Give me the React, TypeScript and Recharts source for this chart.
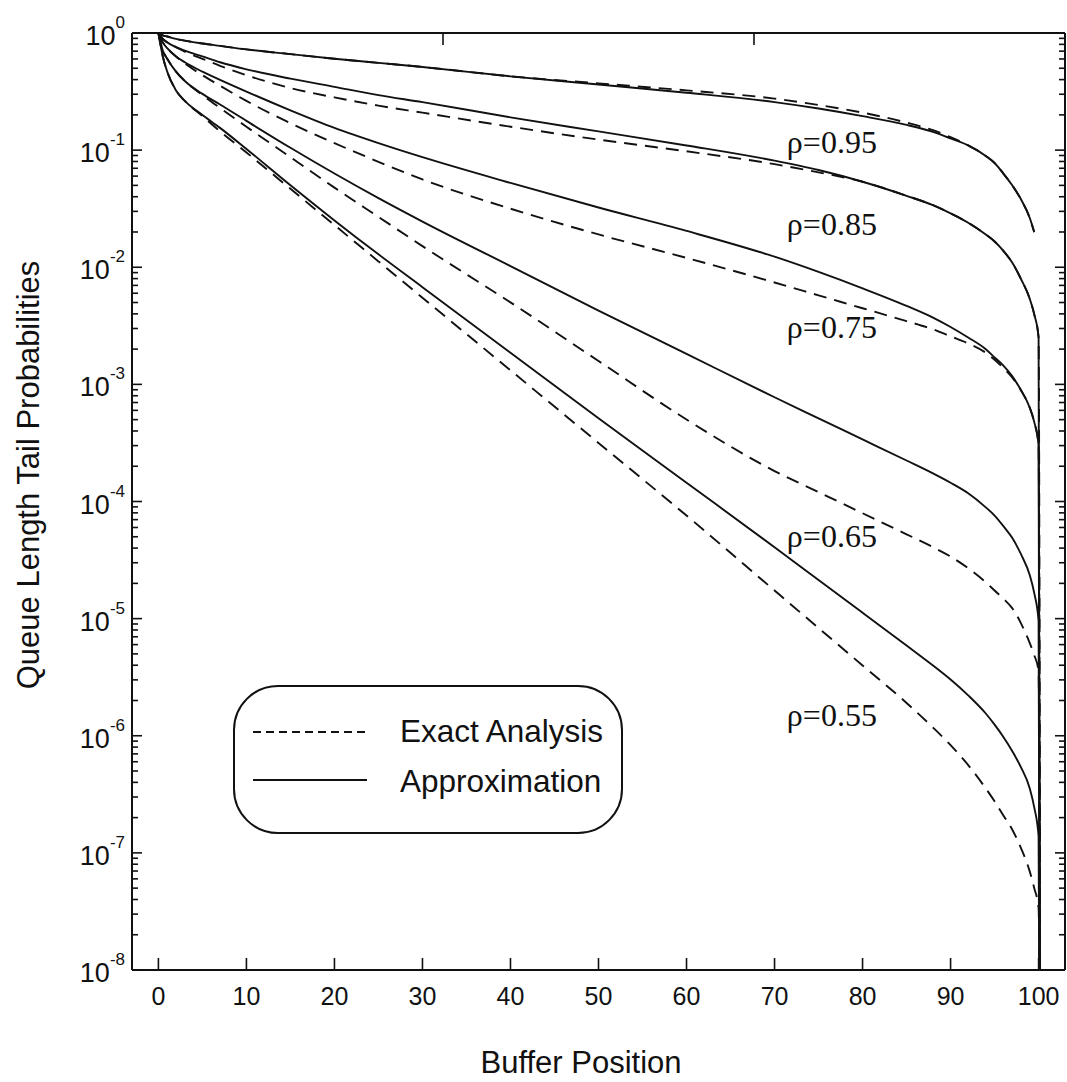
import React from 'react';
import { LineChart, Line, XAxis, YAxis, ReferenceDot, Customized } from 'recharts';

const POSITIONS = [0, 0.5, 1, 2, 3, 5, 7, 10, 15, 20, 25, 30, 40, 50, 60, 70, 75, 80, 85, 88, 90, 92, 94, 95, 96, 97, 98, 99, 99.5, 100, 100.2];

// tail probabilities, as powers of ten (-10 = off the bottom of the plot)
const approx95 = [0, -0.02, -0.03, -0.05, -0.065, -0.09, -0.11, -0.14, -0.18, -0.22, -0.255, -0.29, -0.37, -0.44, -0.51, -0.59, -0.645, -0.71, -0.785, -0.845, -0.9, -0.96, -1.05, -1.11, -1.2, -1.3, -1.42, -1.58, -1.7, null, null];
const exact95 = [0, -0.02, -0.03, -0.05, -0.065, -0.09, -0.11, -0.14, -0.18, -0.22, -0.255, -0.29, -0.37, -0.43, -0.49, -0.56, -0.615, -0.68, -0.765, -0.83, -0.89, -0.96, -1.05, -1.11, -1.2, -1.3, -1.42, -1.58, -1.7, null, null];
const approx85 = [0, -0.05, -0.08, -0.12, -0.15, -0.2, -0.25, -0.31, -0.39, -0.46, -0.53, -0.59, -0.72, -0.84, -0.96, -1.09, -1.17, -1.27, -1.39, -1.47, -1.54, -1.62, -1.72, -1.78, -1.86, -1.96, -2.1, -2.27, -2.4, -2.6, -10];
const exact85 = [0, -0.05, -0.08, -0.12, -0.16, -0.22, -0.28, -0.36, -0.47, -0.55, -0.62, -0.68, -0.8, -0.91, -1.01, -1.12, -1.19, -1.27, -1.39, -1.47, -1.54, -1.62, -1.72, -1.78, -1.86, -1.96, -2.1, -2.27, -2.4, -2.6, -10];
const approx75 = [0, -0.08, -0.13, -0.2, -0.25, -0.33, -0.4, -0.5, -0.66, -0.81, -0.94, -1.06, -1.28, -1.49, -1.69, -1.91, -2.04, -2.18, -2.33, -2.43, -2.51, -2.6, -2.7, -2.77, -2.84, -2.93, -3.05, -3.2, -3.32, -3.52, -10];
const exact75 = [0, -0.08, -0.13, -0.2, -0.26, -0.36, -0.45, -0.58, -0.77, -0.94, -1.1, -1.25, -1.5, -1.72, -1.92, -2.13, -2.24, -2.35, -2.46, -2.53, -2.59, -2.65, -2.73, -2.79, -2.86, -2.94, -3.05, -3.2, -3.32, -3.52, -10];
const approx65 = [0, -0.15, -0.22, -0.33, -0.41, -0.52, -0.61, -0.75, -0.98, -1.2, -1.41, -1.61, -1.99, -2.37, -2.74, -3.11, -3.29, -3.47, -3.65, -3.76, -3.84, -3.93, -4.05, -4.12, -4.21, -4.31, -4.45, -4.63, -4.78, -5.02, -10];
const exact65 = [0, -0.15, -0.22, -0.33, -0.41, -0.53, -0.64, -0.8, -1.06, -1.32, -1.57, -1.82, -2.3, -2.8, -3.3, -3.74, -3.92, -4.1, -4.28, -4.39, -4.47, -4.57, -4.69, -4.76, -4.83, -4.91, -5.04, -5.21, -5.31, -5.45, -10];
const approx55 = [0, -0.2, -0.33, -0.49, -0.58, -0.7, -0.81, -0.99, -1.3, -1.6, -1.89, -2.17, -2.73, -3.29, -3.84, -4.39, -4.67, -4.95, -5.23, -5.4, -5.52, -5.655, -5.81, -5.905, -6.01, -6.13, -6.27, -6.45, -6.61, -6.86, -10];
const exact55 = [0, -0.2, -0.33, -0.49, -0.58, -0.71, -0.84, -1.02, -1.33, -1.64, -1.95, -2.26, -2.88, -3.5, -4.12, -4.76, -5.08, -5.4, -5.72, -5.93, -6.08, -6.25, -6.45, -6.56, -6.68, -6.8, -6.96, -7.16, -7.3, -7.47, -10];

const X_TICKS = [0, 10, 20, 30, 40, 50, 60, 70, 80, 90, 100];
const DECADES = [1, 1e-1, 1e-2, 1e-3, 1e-4, 1e-5, 1e-6, 1e-7, 1e-8];
const MINOR_STEPS = [2, 3, 4, 5, 6, 7, 8, 9];

const RHO_LABELS = [
  { text: 'ρ=0.95', x: 71.4, p: 0.0937 },
  { text: 'ρ=0.85', x: 71.4, p: 0.0188 },
  { text: 'ρ=0.75', x: 71.4, p: 2.47e-3 },
  { text: 'ρ=0.65', x: 71.4, p: 4.05e-5 },
  { text: 'ρ=0.55', x: 71.4, p: 1.22e-6 },
];

const SERIES = [
  { key: 'e95', values: exact95, dashed: true },
  { key: 'a95', values: approx95, dashed: false },
  { key: 'e85', values: exact85, dashed: true },
  { key: 'a85', values: approx85, dashed: false },
  { key: 'e75', values: exact75, dashed: true },
  { key: 'a75', values: approx75, dashed: false },
  { key: 'e65', values: exact65, dashed: true },
  { key: 'a65', values: approx65, dashed: false },
  { key: 'e55', values: exact55, dashed: true },
  { key: 'a55', values: approx55, dashed: false },
];

const rows = POSITIONS.map((x, i) => {
  const row: Record<string, number | null> = { x };
  SERIES.forEach((s) => {
    const v = s.values[i];
    row[s.key] = v == null ? null : Math.pow(10, v);
  });
  return row;
});

const Y_TICKS = [
  ...DECADES,
  ...DECADES.slice(1).flatMap((d) => MINOR_STEPS.map((m) => m * d)),
];

const SANS = "'Liberation Sans', Arial, Helvetica, sans-serif";
const SERIF = "'Liberation Serif', 'Times New Roman', serif";
const INK = '#111';

const isDecade = (v: number) => Math.abs(Math.log10(v) - Math.round(Math.log10(v))) < 1e-6;

function LeftTick({ x, y, payload }: any) {
  const v = payload.value;
  const major = isDecade(v);
  const exp = Math.round(Math.log10(v));
  return (
    <g>
      <line x1={x} x2={x + (major ? 10 : 6)} y1={y} y2={y} stroke={INK} strokeWidth={1.6} />
      {major && (
        <text x={x - 7} y={y + 12} textAnchor="end" fontFamily={SANS} fill={INK}>
          <tspan fontSize={27}>10</tspan>
          <tspan fontSize={17} dy={-17}>{exp === 0 ? '0' : String(exp)}</tspan>
        </text>
      )}
    </g>
  );
}

function RightTick({ x, y, payload }: any) {
  const major = isDecade(payload.value);
  return <line x1={x} x2={x - (major ? 10 : 6)} y1={y} y2={y} stroke={INK} strokeWidth={1.6} />;
}

function BottomTick({ x, y, payload }: any) {
  return (
    <g>
      <line x1={x} x2={x} y1={y} y2={y - 12} stroke={INK} strokeWidth={1.6} />
      <text x={x} y={y + 35} textAnchor="middle" fontFamily={SANS} fontSize={25} fill={INK}>
        {payload.value}
      </text>
    </g>
  );
}

function TopTick({ x, y }: any) {
  return <line x1={x} x2={x} y1={y} y2={y + 12} stroke={INK} strokeWidth={1.6} />;
}

function RhoText(props: any) {
  const { viewBox, value } = props;
  return (
    <text x={viewBox.x} y={viewBox.y} fontFamily={SERIF} fontSize={32} fill={INK}>
      {value}
    </text>
  );
}

function Decorations() {
  return (
    <g>
      <text
        x={39}
        y={475}
        transform="rotate(-90 39 475)"
        textAnchor="middle"
        fontFamily={SANS}
        fontSize={31}
        fill={INK}
      >
        Queue Length Tail Probabilities
      </text>
      <text x={581} y={1073} textAnchor="middle" fontFamily={SANS} fontSize={31} fill={INK}>
        Buffer Position
      </text>
      <rect x={234} y={686} width={388} height={147} rx={44} ry={44} fill="#fff" stroke={INK} strokeWidth={2} />
      <line x1={253} x2={367} y1={732} y2={732} stroke={INK} strokeWidth={2} strokeDasharray="8 5" />
      <text x={400} y={742} fontFamily={SANS} fontSize={31.5} fill={INK}>
        Exact Analysis
      </text>
      <line x1={253} x2={367} y1={780} y2={780} stroke={INK} strokeWidth={2} />
      <text x={400} y={792} fontFamily={SANS} fontSize={31.5} fill={INK}>
        Approximation
      </text>
    </g>
  );
}

export default function App() {
  const axisLine = { stroke: INK, strokeWidth: 2 };
  return (
    <div style={{ position: 'absolute', left: 0, top: 0, width: 1067, height: 1082, background: '#fff' }}>
      <LineChart width={1067} height={1082} data={rows} margin={{ top: 0, right: 0, bottom: 0, left: 0 }}>
        <XAxis
          dataKey="x"
          type="number"
          domain={[-3, 103]}
          ticks={X_TICKS}
          interval={0}
          allowDataOverflow
          height={112}
          tickSize={0}
          tickMargin={0}
          tickLine={false}
          axisLine={axisLine}
          tick={(p: any) => <BottomTick {...p} />}
        />
        <XAxis
          xAxisId="top"
          orientation="top"
          type="number"
          domain={[-3, 103]}
          ticks={X_TICKS}
          interval={0}
          allowDataOverflow
          height={33}
          tickSize={0}
          tickMargin={0}
          tickLine={false}
          axisLine={axisLine}
          tick={(p: any) => <TopTick {...p} />}
        />
        <YAxis
          type="number"
          scale="log"
          domain={[1e-8, 1]}
          ticks={Y_TICKS}
          interval={0}
          allowDataOverflow
          width={132}
          tickSize={0}
          tickMargin={0}
          tickLine={false}
          axisLine={axisLine}
          tick={(p: any) => <LeftTick {...p} />}
        />
        <YAxis
          yAxisId="right"
          orientation="right"
          type="number"
          scale="log"
          domain={[1e-8, 1]}
          ticks={Y_TICKS}
          interval={0}
          allowDataOverflow
          width={2}
          tickSize={0}
          tickMargin={0}
          tickLine={false}
          axisLine={axisLine}
          tick={(p: any) => <RightTick {...p} />}
        />
        {SERIES.map((s) => (
          <Line
            key={s.key}
            dataKey={s.key}
            type="monotone"
            stroke={INK}
            strokeWidth={1.9}
            strokeDasharray={s.dashed ? '13 8' : undefined}
            dot={false}
            activeDot={false}
            isAnimationActive={false}
          />
        ))}
        {RHO_LABELS.map((l) => (
          <ReferenceDot
            key={l.text}
            x={l.x}
            y={l.p}
            r={0}
            fill="none"
            stroke="none"
            label={{ value: l.text, content: (p: any) => <RhoText {...p} /> }}
          />
        ))}
        <Customized component={<Decorations />} />
      </LineChart>
    </div>
  );
}
